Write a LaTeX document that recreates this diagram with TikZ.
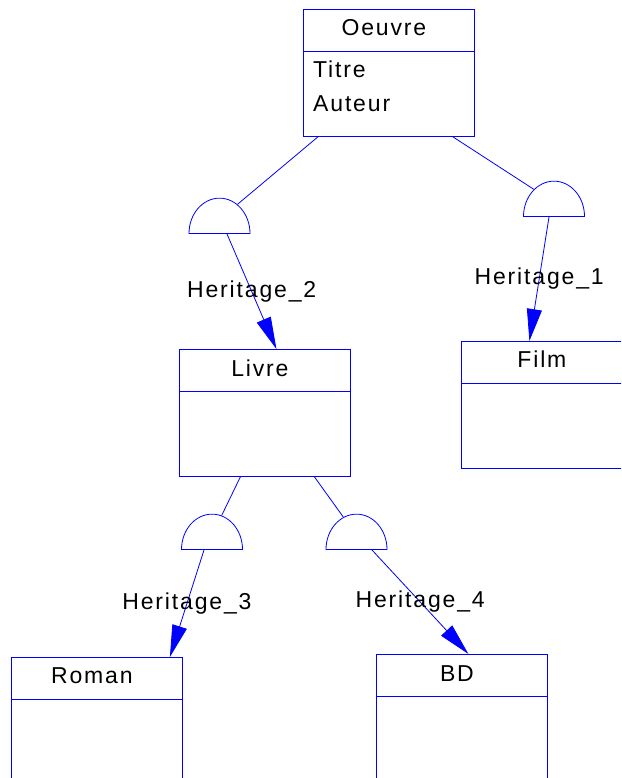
\documentclass[tikz,border=0pt]{standalone}
\usepackage{fontspec}
\setmainfont{Liberation Sans}[LetterSpace=8]
\usetikzlibrary{shapes.geometric,arrows.meta}

\tikzset{
  classe/.style={draw=blue, line width=0.8pt, anchor=north west,
    minimum width=171pt, minimum height=127pt, inner sep=0pt},
  titre/.style={anchor=base, inner sep=0pt, xshift=-5pt},
  attribut/.style={anchor=base west, inner sep=0pt},
  heritage/.style={semicircle, draw=blue, line width=0.8pt, inner sep=0pt,
    minimum width=61pt, minimum height=30pt, anchor=chord center,
    yscale=1.16, transform shape},
  lien/.style={draw=blue, line width=0.8pt},
  fleche/.style={lien, -{Triangle[length=32pt,width=15pt]}},
  lbl/.style={inner sep=0pt}
}

\begin{document}
\begin{tikzpicture}[x=1pt, y=-1pt, font=\fontsize{23}{27}\selectfont]
			\clip (0,0) rectangle (621,778);
			\useasboundingbox (0,0) rectangle (621,778);

			% classes
			\node(oeuvre) [classe] at (303,9) {};
			\node(livre) [classe] at (179,349) {};
			\node(film) [classe] at (461,341) {};
			\node(roman) [classe] at (11,657) {};
			\node(bd) [classe] at (376,654) {};

			\foreach \c in {oeuvre,livre,film,roman,bd}
				\draw[lien] ([yshift=-42pt]\c.north west) -- ([yshift=-42pt]\c.north east);

			\node(oeuvre-t) [titre] at ([yshift=-27pt]oeuvre.north) {Oeuvre};
			\node(livre-t) [titre] at ([yshift=-27pt]livre.north) {Livre};
			\node(film-t) [titre] at ([yshift=-26pt]film.north) {Film};
			\node(roman-t) [titre] at ([yshift=-26pt]roman.north) {Roman};
			\node(bd-t) [titre] at ([yshift=-27pt]bd.north) {BD};

			\node(titre) [attribut] at ([xshift=10pt,yshift=-69pt]oeuvre.north west) {Titre};
			\node(auteur) [attribut] at ([xshift=10pt,yshift=-103pt]oeuvre.north west) {Auteur};

			% heritages
			\node(h2) [heritage] at (219.5,234) {};
			\node(h1) [heritage] at (554,217) {};
			\node(h3) [heritage] at (212,550) {};
			\node(h4) [heritage] at (356.5,550) {};

			\draw[lien] ([xshift=15pt]oeuvre.south west) -- (h2);
			\draw[lien] ([xshift=-22pt]oeuvre.south east) -- (h1);
			\draw[lien] ([xshift=-24.5pt]livre.south) -- (h3);
			\draw[lien] ([xshift=49.5pt]livre.south) -- (h4);

			\draw[fleche] ([xshift=7.5pt]h2.chord center) -- node[lbl] {Heritage\_2} ([xshift=11.5pt]livre.north);
			\draw[fleche] ([xshift=-5pt]h1.chord center) -- node[lbl] {Heritage\_1} ([xshift=-17.5pt]film.north);
			\draw[fleche] ([xshift=-8pt]h3.chord center) -- node[lbl] {Heritage\_3} ([xshift=73pt]roman.north);
			\draw[fleche] ([xshift=15.5pt]h4.chord center) -- node[lbl] {Heritage\_4} ([xshift=6.5pt]bd.north);
		\end{tikzpicture}
\end{document}
